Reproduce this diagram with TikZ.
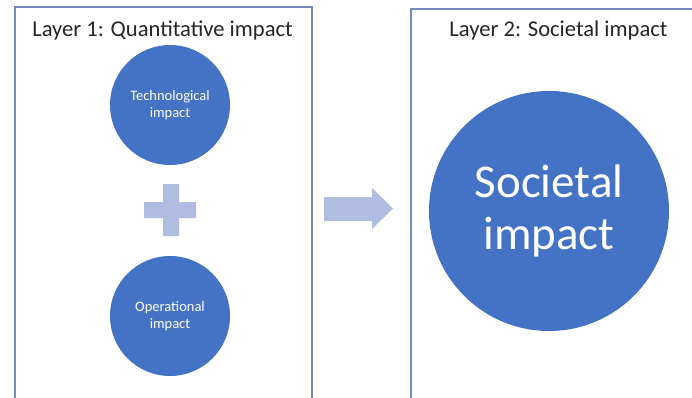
\documentclass[tikz,border=0pt]{standalone}
\usepackage{fontspec}
\setmainfont{Carlito}
\usepackage{tikz}

\definecolor{bubbleblue}{RGB}{68,114,196}
\definecolor{lightblue}{RGB}{176,189,224}
\definecolor{boxline}{RGB}{112,138,192}
\definecolor{titlegray}{RGB}{38,38,38}

\tikzset{
  bubble/.style={circle, fill=bubbleblue, text=white, align=center, inner sep=0pt},
  layertitle/.style={text=titlegray, anchor=base, inner sep=0pt, font=\fontsize{22.6}{26}\selectfont},
  panel/.style={draw=boxline, line width=1.2pt}
}

\begin{document}
\begin{tikzpicture}[x=1pt,y=-1pt]
    \useasboundingbox (0,0) rectangle (692,398);
    \draw[panel] (15,398) -- (15,7) -- (312,7) -- (312,398);
    \draw[panel] (411,398) -- (411,9) -- (692,9);
    \draw (162.5,37) node[layertitle] (title1) {Layer 1: Quantitative impact};
    \draw (558.5,37) node[layertitle] (title2) {Layer 2: Societal impact};
    \draw (170,105) node[bubble, minimum size=120pt, font=\fontsize{14.5}{17}\selectfont] (tech) {Technological\\impact};
    \draw (170,316) node[bubble, minimum size=120pt, font=\fontsize{14.5}{17}\selectfont] (oper) {Operational\\impact};
    \draw (549,211) node[bubble, minimum size=240pt, font=\fontsize{47}{52}\selectfont] (soc) {Societal\\impact};
    \fill[lightblue] (163,184) -- (179,184) -- (179,202) -- (196,202) -- (196,218) -- (179,218)
      -- (179,236) -- (163,236) -- (163,218) -- (144,218) -- (144,202) -- (163,202) -- cycle;
    \fill[lightblue] (324,197) -- (372,197) -- (372,188) -- (393,208.5) -- (372,229) -- (372,221)
      -- (324,221) -- cycle;
  \end{tikzpicture}
\end{document}
